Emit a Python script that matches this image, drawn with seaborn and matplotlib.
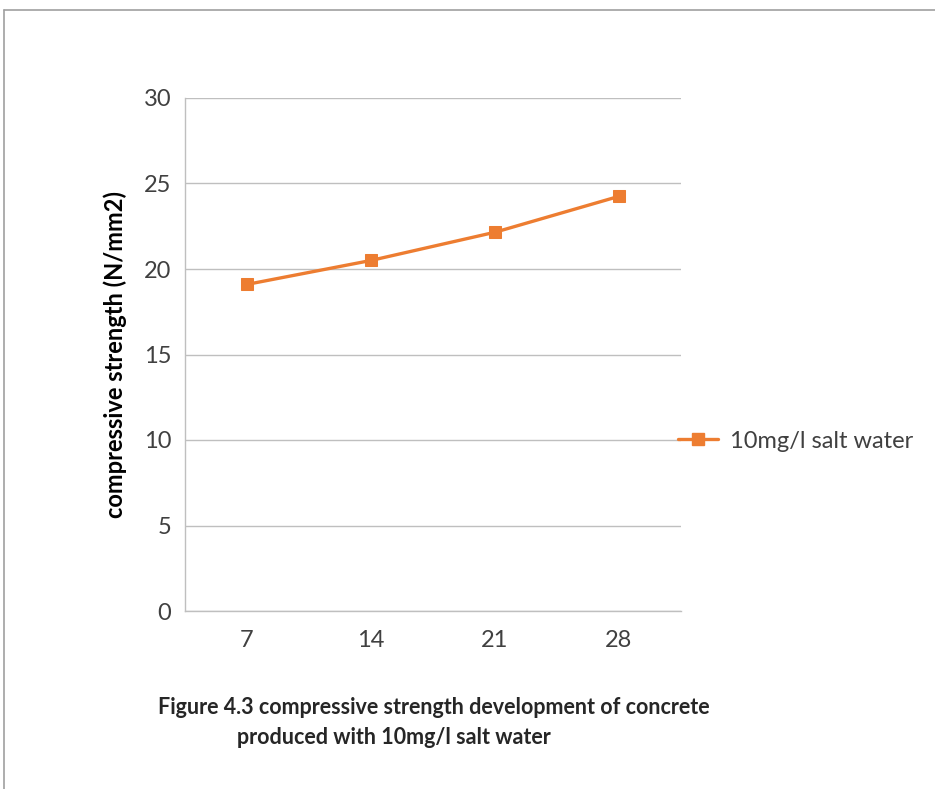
import matplotlib
matplotlib.use("Agg")
import matplotlib.pyplot as plt
import seaborn as sns
import pandas as pd
from matplotlib.lines import Line2D

# Curing age (days) and measured compressive strength
ages = ["7", "14", "21", "28"]
strength = [19.1, 20.5, 22.15, 24.25]
series_name = "10mg/l salt water"
y_ticks = [0, 5, 10, 15, 20, 25, 30]

df = pd.DataFrame({"age": ages, "strength": strength})

sns.set_theme(style="white")
plt.rcParams["font.family"] = ["Lato", "DejaVu Sans"]

W, H = 935, 789
fig = plt.figure(figsize=(W / 100, H / 100), dpi=100)
ax = fig.add_axes([185 / W, 1 - 611 / H, 496 / W, (611 - 98) / H])

orange = "#ED7D31"
grid_c = "#BFBFBF"
sns.lineplot(data=df, x="age", y="strength", ax=ax, color=orange,
             linewidth=2.4, marker="s", markersize=9,
             markeredgecolor=orange, sort=False)

ax.set_xlim(-0.5, len(ages) - 0.5)
ax.set_ylim(0, 30)
ax.set_yticks(y_ticks)
ax.yaxis.grid(True, color=grid_c, linewidth=1)
ax.xaxis.grid(False)
for side in ["top", "right"]:
    ax.spines[side].set_visible(False)
for side in ["left", "bottom"]:
    ax.spines[side].set_color(grid_c)
    ax.spines[side].set_linewidth(1)
ax.tick_params(axis="both", length=0, labelsize=17, colors="#404040")
ax.tick_params(axis="y", pad=10)
ax.tick_params(axis="x", pad=14)
ax.set_xlabel("")
ax.set_ylabel("compressive strength (N/mm2)", fontsize=17, fontweight="bold",
              color="black", labelpad=12)

handle = Line2D([], [], color=orange, linewidth=2.4, marker="s", markersize=9)
fig.legend([handle], [series_name], loc="center left",
           bbox_to_anchor=(657 / W, 1 - 441 / H), frameon=False,
           fontsize=17, handlelength=1.7, handletextpad=0.5,
           labelcolor="#404040")

fig.text(434 / W, 1 - 708 / H,
         "Figure 4.3 compressive strength development of concrete",
         ha="center", va="center", fontsize=15.5, fontweight="bold")
fig.text(394 / W, 1 - 737 / H, "produced with 10mg/l salt water",
         ha="center", va="center", fontsize=15.5, fontweight="bold")

# Outer frame lines along top and left
fig.add_artist(Line2D([4 / W, 1], [1 - 10 / H, 1 - 10 / H],
                      transform=fig.transFigure, color="#A0A0A0", linewidth=1.2))
fig.add_artist(Line2D([4 / W, 4 / W], [0, 1 - 10 / H],
                      transform=fig.transFigure, color="#A0A0A0", linewidth=1.2))

fig.savefig("out.png", dpi=100)
